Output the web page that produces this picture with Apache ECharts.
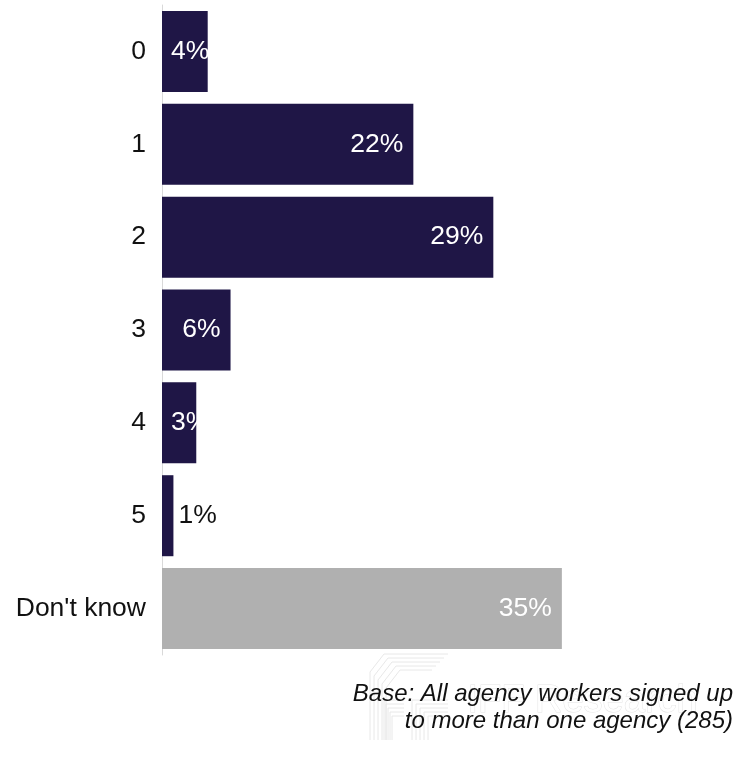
<!DOCTYPE html>
<html>
<head>
<meta charset="utf-8">
<script src="https://cdn.jsdelivr.net/npm/echarts@6/dist/echarts.min.js"></script>
<style>
  html, body { margin: 0; padding: 0; background: #ffffff; }
  #chart { width: 738px; height: 762px; }
</style>
</head>
<body>
<div id="chart"></div>
<script>
// Number of other agencies contacted — share of agency workers
const categories = ['0', '1', '2', '3', '4', '5', "Don't know"];
const values = [4, 22, 29, 6, 3, 1, 35];
const baseNote = ['Base: All agency workers signed up', 'to more than one agency (285)'];

const NAVY = '#1f1646';
const GREY = '#b0b0b0';
const FONT = 'Liberation Sans, Arial, sans-serif';

const chart = echarts.init(document.getElementById('chart'), null, { renderer: 'canvas' });

const seriesData = values.map((v, i) => {
  const isUnknown = categories[i] === "Don't know";
  let label;
  if (v <= 1) {
    label = { position: 'right', distance: 5, color: '#111111' };
  } else if (v <= 4) {
    label = { position: 'insideLeft', distance: 9, color: '#ffffff' };
  } else {
    label = { position: 'insideRight', distance: 10, color: '#ffffff' };
  }
  return {
    value: v,
    itemStyle: { color: isUnknown ? GREY : NAVY },
    label: label
  };
});

// faint nested outline logo next to the company name
const logoLines = [];
for (let k = 0; k < 5; k++) {
  const o = k * 4;
  logoLines.push({
    type: 'polyline',
    shape: { points: [[370 + o, 740], [370 + o, 672 + o], [384 + o, 654 + o], [448 - o, 654 + o]] },
    style: { stroke: '#e8e8e8', fill: null, lineWidth: 1 },
    silent: true
  });
  logoLines.push({
    type: 'polyline',
    shape: { points: [[412 + o, 740], [412 + o, 700 + o], [448, 700 + o]] },
    style: { stroke: '#e8e8e8', fill: null, lineWidth: 1 },
    silent: true
  });
  logoLines.push({
    type: 'polyline',
    shape: { points: [[384 + o * 0.5, 740], [384 + o * 0.5, 700 + o], [404, 700 + o]] },
    style: { stroke: '#e8e8e8', fill: null, lineWidth: 1 },
    silent: true
  });
}

chart.setOption({
  animation: false,
  backgroundColor: '#ffffff',
  grid: { left: 162, right: 119, top: 5, bottom: 107, containLabel: false },
  xAxis: {
    type: 'value',
    min: 0,
    max: 40,
    show: false
  },
  yAxis: {
    type: 'category',
    data: categories,
    inverse: true,
    axisLine: { show: true, lineStyle: { color: '#d9d9d9', width: 1 } },
    axisTick: { show: false },
    axisLabel: {
      margin: 16,
      color: '#111111',
      fontSize: 26.5,
      fontFamily: FONT
    }
  },
  series: [{
    type: 'bar',
    data: seriesData,
    barWidth: 81,
    label: {
      show: true,
      fontSize: 26.5,
      fontFamily: FONT,
      formatter: p => p.value + '%'
    }
  }],
  graphic: logoLines.concat([
    {
      type: 'text',
      left: 467,
      top: 682,
      silent: true,
      style: {
        text: 'IFF Research',
        fontSize: 38,
        fontFamily: FONT,
        fill: '#ffffff',
        stroke: '#e4e4e4',
        lineWidth: 1
      }
    },
    {
      type: 'text',
      right: 5,
      top: 682,
      silent: true,
      style: {
        text: baseNote[0],
        fontSize: 24,
        fontStyle: 'italic',
        fontFamily: FONT,
        fill: '#111111'
      }
    },
    {
      type: 'text',
      right: 5,
      top: 709,
      silent: true,
      style: {
        text: baseNote[1],
        fontSize: 24,
        fontStyle: 'italic',
        fontFamily: FONT,
        fill: '#111111'
      }
    }
  ])
});
</script>
</body>
</html>
